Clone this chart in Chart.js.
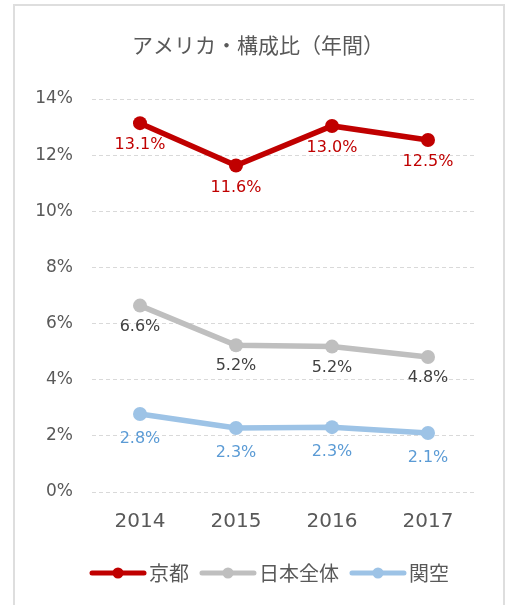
<!DOCTYPE html>
<html>
<head>
<meta charset="utf-8">
<script src="https://cdn.jsdelivr.net/npm/chart.js@4"></script>
<style>
  html, body { margin: 0; padding: 0; background: #fff; }
  #wrap { position: relative; width: 509px; height: 605px; }
  #frame { position: absolute; left: 13px; top: 4px; width: 488px; height: 620px; border: 2px solid #dedede; }
  canvas { position: absolute; left: 0; top: 0; }
</style>
</head>
<body>
<div id="wrap">
  <div id="frame"></div>
  <canvas id="chart" width="509" height="605"></canvas>
</div>
<script>
const title = 'アメリカ・構成比（年間）';
const years = ['2014', '2015', '2016', '2017'];
const kyoto = [13.14, 11.63, 13.04, 12.54];
const japan = [6.64, 5.23, 5.18, 4.81];
const kansai = [2.78, 2.28, 2.31, 2.1];

const latin = '"DejaVu Sans", "Noto Sans CJK JP", sans-serif';
const cjk = '"Noto Sans CJK JP", sans-serif';

function series(label, data, color, labelColor, offset) {
  return {
    label,
    data,
    borderColor: color,
    backgroundColor: color,
    borderWidth: 5.5,
    pointRadius: 7,
    pointBorderWidth: 0,
    pointBackgroundColor: color,
    labelColor,
    labelOffset: offset
  };
}

const extras = {
  id: 'extras',
  afterDatasetsDraw(chart) {
    const ctx = chart.ctx;
    ctx.save();
    ctx.font = '16px ' + latin;
    ctx.textAlign = 'center';
    ctx.textBaseline = 'middle';
    chart.data.datasets.forEach((ds, i) => {
      ctx.fillStyle = ds.labelColor;
      chart.getDatasetMeta(i).data.forEach((pt, j) => {
        ctx.fillText(ds.data[j].toFixed(1) + '%', pt.x, pt.y + ds.labelOffset);
      });
    });
    ctx.restore();
  },
  afterDraw(chart) {
    const ctx = chart.ctx;
    ctx.save();
    // title
    ctx.fillStyle = '#595959';
    ctx.font = '21px ' + cjk;
    ctx.textAlign = 'center';
    ctx.textBaseline = 'middle';
    ctx.fillText(title, 258, 45);

    // legend: line + marker + text
    ctx.font = '20px ' + cjk;
    ctx.textAlign = 'left';
    let x = 90;
    const y = 573;
    chart.data.datasets.forEach(ds => {
      ctx.strokeStyle = ds.borderColor;
      ctx.lineWidth = 5;
      ctx.lineCap = 'round';
      ctx.beginPath();
      ctx.moveTo(x + 2, y);
      ctx.lineTo(x + 54, y);
      ctx.stroke();
      ctx.fillStyle = ds.borderColor;
      ctx.beginPath();
      ctx.arc(x + 28, y, 5.5, 0, Math.PI * 2);
      ctx.fill();
      ctx.fillStyle = '#595959';
      ctx.fillText(ds.label, x + 59, y);
      x += 59 + ctx.measureText(ds.label).width + 11;
    });
    ctx.restore();
  }
};

new Chart(document.getElementById('chart'), {
  type: 'line',
  data: {
    labels: years,
    datasets: [
      series('京都', kyoto, '#c00000', '#c00000', 22),
      series('日本全体', japan, '#bfbfbf', '#404040', 21),
      series('関空', kansai, '#9dc3e6', '#5b9bd5', 25)
    ]
  },
  options: {
    responsive: false,
    animation: false,
    layout: { padding: { left: 0, right: 33, top: 99, bottom: 73 } },
    plugins: {
      legend: { display: false },
      title: { display: false },
      tooltip: { enabled: false }
    },
    scales: {
      x: {
        offset: true,
        grid: { display: false, drawTicks: false },
        border: { display: false },
        ticks: { color: '#595959', font: { family: latin, size: 20 }, padding: 18 },
        afterFit(axis) { axis.height = 40; }
      },
      y: {
        min: 0,
        max: 14,
        grid: { color: '#d9d9d9', lineWidth: 1, drawTicks: false },
        border: { display: false, dash: [4, 3] },
        ticks: {
          stepSize: 2,
          color: '#595959',
          font: { family: latin, size: 17 },
          padding: 19,
          callback: v => v + '%'
        },
        afterFit(axis) { axis.width = 92; }
      }
    }
  },
  plugins: [extras]
});
</script>
</body>
</html>
